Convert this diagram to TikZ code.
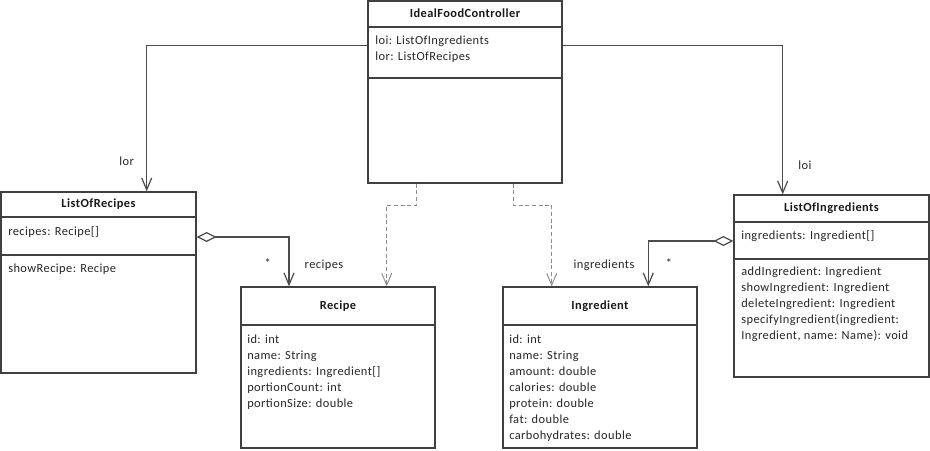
\documentclass[tikz,border=0pt]{standalone}
\usepackage{fontspec}
\setmainfont{Carlito}[LetterSpace=3.5]
\usetikzlibrary{arrows.meta,fit}
\begin{document}
\begin{tikzpicture}[x=0.75pt,y=-0.75pt,
 box/.style={draw=black!75, line width=0.9pt, fill=white, inner sep=0pt},
 sepline/.style={draw=black!75, line width=0.9pt},
 hdr/.style={font=\fontsize{9.3}{11}\selectfont\bfseries, text=black!90, inner sep=0pt, text height=0.65em, text depth=0.15em},
 txt/.style={font=\fontsize{9.3}{11}\selectfont, text=black!85, inner sep=0pt, anchor=west, text height=0.65em, text depth=0.15em},
 lbl/.style={font=\fontsize{9.3}{11}\selectfont, text=black!85, inner sep=0pt, text height=0.65em, text depth=0.15em},
 star/.style={font=\fontsize{9.3}{11}\selectfont, text=black!85, inner sep=0pt},
 assoc/.style={draw=black!70, line width=0.9pt, -{Straight Barb[length=9pt,width=7.5pt]}},
 dep/.style={draw=black!45, line width=0.7pt, dash pattern=on 3pt off 2pt, -{Straight Barb[length=9pt,width=7.5pt]}},
 agg/.style={draw=black!70, line width=0.9pt, {Diamond[open,length=15pt,width=7.5pt]}-{Straight Barb[length=9pt,width=7.5pt]}}
]
\useasboundingbox (0,0) rectangle (930,450);

% boxes
\node[box, fit={(368,1)(562,183)}] (ctrl) {};
\node[box, fit={(1,192)(196,373)}] (lor) {};
\node[box, fit={(241,287)(435,448)}] (rec) {};
\node[box, fit={(503,287)(697,448)}] (ing) {};
\node[box, fit={(734,195)(929,377)}] (loi) {};

% separators
\draw[sepline] (ctrl.west |- 0,27) -- (ctrl.east |- 0,27);
\draw[sepline] (ctrl.west |- 0,78) -- (ctrl.east |- 0,78);
\draw[sepline] (lor.west |- 0,217) -- (lor.east |- 0,217);
\draw[sepline] (lor.west |- 0,255) -- (lor.east |- 0,255);
\draw[sepline] (rec.west |- 0,325) -- (rec.east |- 0,325);
\draw[sepline] (ing.west |- 0,325) -- (ing.east |- 0,325);
\draw[sepline] (loi.west |- 0,222) -- (loi.east |- 0,222);
\draw[sepline] (loi.west |- 0,259) -- (loi.east |- 0,259);

% headers
\node[hdr] (hctrl) at (465,14) {IdealFoodController};
\node[hdr] (hlor) at (98.5,204.5) {ListOfRecipes};
\node[hdr] (hrec) at (338,306) {Recipe};
\node[hdr] (hing) at (600,306) {Ingredient};
\node[hdr] (hloi) at (831.5,208.5) {ListOfIngredients};

% controller attributes
\node[txt] (c1) at (375,41) {loi: ListOfIngredients};
\node[txt] (c2) at (375,57) {lor: ListOfRecipes};

% ListOfRecipes
\node[txt] (lr1) at (8,232) {recipes: Recipe[]};
\node[txt] (lr2) at (8,269) {showRecipe: Recipe};

% Recipe
\node[txt] (r1) at (247,340) {id: int};
\node[txt] (r2) at (247,356) {name: String};
\node[txt] (r3) at (247,372) {ingredients: Ingredient[]};
\node[txt] (r4) at (247,388) {portionCount: int};
\node[txt] (r5) at (247,404) {portionSize: double};

% Ingredient
\node[txt] (i1) at (509,340) {id: int};
\node[txt] (i2) at (509,356) {name: String};
\node[txt] (i3) at (509,372) {amount: double};
\node[txt] (i4) at (509,388) {calories: double};
\node[txt] (i5) at (509,404) {protein: double};
\node[txt] (i6) at (509,420) {fat: double};
\node[txt] (i7) at (509,436) {carbohydrates: double};

% ListOfIngredients
\node[txt] (li1) at (741,236) {ingredients: Ingredient[]};
\node[txt] (li2) at (741,272.5) {addIngredient: Ingredient};
\node[txt] (li3) at (741,288.5) {showIngredient: Ingredient};
\node[txt] (li4) at (741,304.5) {deleteIngredient: Ingredient};
\node[txt] (li5) at (741,320.5) {specifyIngredient(ingredient:};
\node[txt] (li6) at (741,336.5) {Ingredient, name: Name): void};

% connectors
\draw[assoc] (ctrl.west |- 0,45.7) -| (lor.north -| 146.7,0);
\draw[assoc] (ctrl.east |- 0,45.7) -| (loi.north -| 782.7,0);
\draw[agg] (lor.east |- 0,237) -| (rec.north -| 289,0);
\draw[agg] (loi.west |- 0,241) -| (ing.north -| 648.3,0);
\coordinate (d1) at (386.7,205);
\coordinate (d2) at (551.7,205);
\draw[dep] (ctrl.south -| 416.7,0) |- (d1) -- (rec.north -| d1);
\draw[dep] (ctrl.south -| 513.3,0) |- (d2) -- (ing.north -| d2);

% labels
\node[lbl] (llor) at (126.7,162) {lor};
\node[lbl] (lloi) at (805,166) {loi};
\node[star] (s1) at (267.7,262.7) {*};
\node[lbl] (lrec) at (324,265.3) {recipes};
\node[lbl] (ling) at (604,265) {ingredients};
\node[star] (s2) at (669,262.7) {*};
\end{tikzpicture}
\end{document}
